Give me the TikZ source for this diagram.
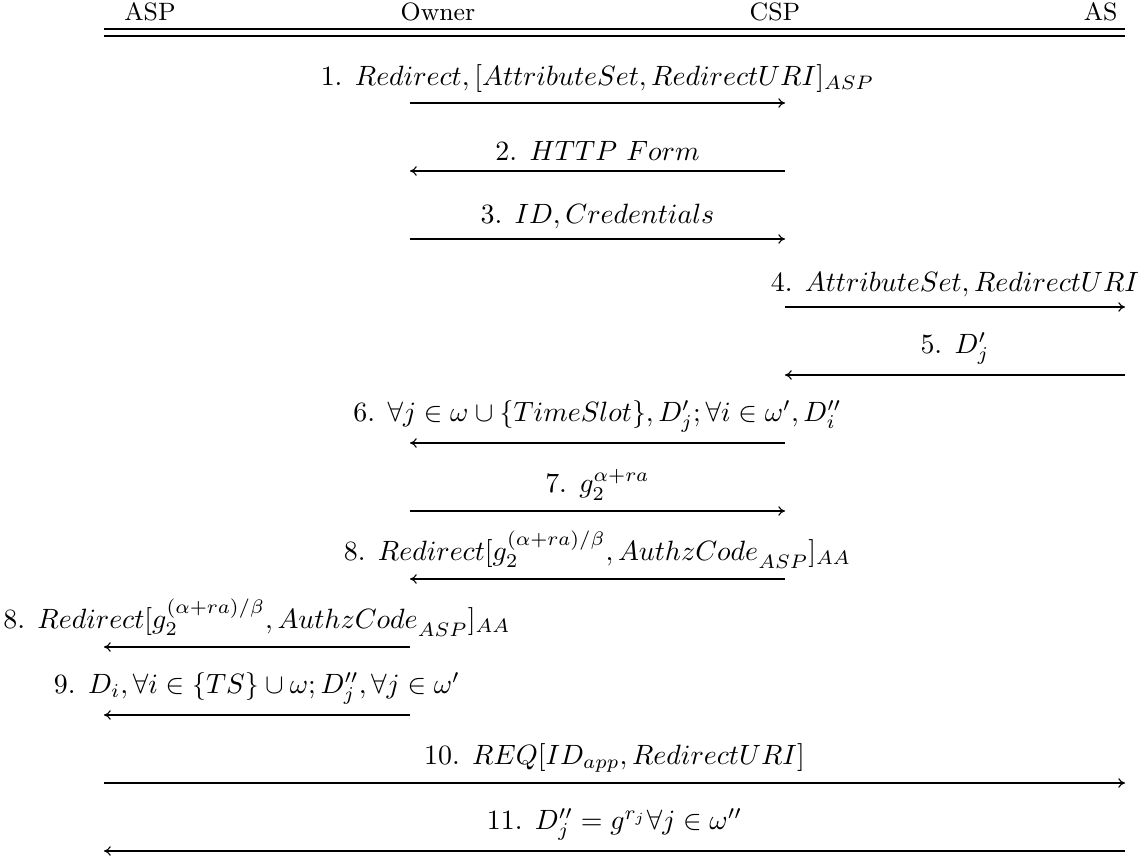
\documentclass[tikz,border=0pt]{standalone}
\usetikzlibrary{arrows.meta,calc}
\begin{document}
\begin{tikzpicture}[x=0.3584pt, y=-0.3584pt,
  msg/.style={-{To[length=2.4pt,width=3.4pt]}, line width=0.4pt},
  lbl/.style={anchor=south, inner sep=0pt},
  party/.style={anchor=base, inner sep=0pt, font=\small},
  hrule/.style={line width=0.4pt}]
\useasboundingbox (0,0) rectangle (1146,856);

% header row with the four parties
\node[party] (hASP)   at (150,21) {ASP};
\node[party] (hOwner) at (438,21) {Owner};
\node[party] (hCSP)   at (775,21) {CSP};
\node[party, anchor=base east] (hAS) at (1118,21) {AS};

% double rule under the header
\coordinate (r1a) at (104,29); \coordinate (r1b) at (1125,29);
\coordinate (r2a) at (104,36); \coordinate (r2b) at (1125,36);
\draw[hrule] (r1a) -- (r1b);
\draw[hrule] (r2a) -- (r2b);

% message rows: one point per party on each row
\foreach \r/\y in {1/103,2/171,3/239,4/307,5/375,6/443,7/511,8/579,9/647,10/715,11/783,12/851}{
  \coordinate (asp\r) at (104,\y);
  \coordinate (own\r) at (410,\y);
  \coordinate (csp\r) at (785,\y);
  \coordinate (as\r)  at (1125,\y);
}

% messages, each label centred over its arrow
\draw[msg] (own1) -- (csp1);
\node[lbl] (m1) at ($(own1)!0.5!(csp1)+(0,-10)$) {1. $Redirect, [AttributeSet, RedirectURI]_{ASP}$};

\draw[msg] (csp2) -- (own2);
\node[lbl] (m2) at ($(own2)!0.5!(csp2)+(0,-10)$) {2. $HTTP\ Form$};

\draw[msg] (own3) -- (csp3);
\node[lbl] (m3) at ($(own3)!0.5!(csp3)+(0,-10)$) {3. $ID, Credentials$};

\draw[msg] (csp4) -- (as4);
\node[lbl] (m4) at ($(csp4)!0.5!(as4)+(0,-10)$) {4. $AttributeSet, RedirectURI$};

\draw[msg] (as5) -- (csp5);
\node[lbl] (m5) at ($(csp5)!0.5!(as5)+(0,-10)$) {5. $D'_j$};

\draw[msg] (csp6) -- (own6);
\node[lbl] (m6) at ($(own6)!0.5!(csp6)+(0,-10)$) {6. $\forall j \in \omega \cup \{TimeSlot\}, D'_j; \forall i \in \omega', D''_i$};

\draw[msg] (own7) -- (csp7);
\node[lbl] (m7) at ($(own7)!0.5!(csp7)+(0,-10)$) {7. $g_2^{\alpha+ra}$};

\draw[msg] (csp8) -- (own8);
\node[lbl] (m8) at ($(own8)!0.5!(csp8)+(0,-10)$) {8. $Redirect[g_2^{(\alpha+ra)/\beta}, AuthzCode_{\lower1.5pt\hbox{$\scriptstyle ASP$}}]_{AA}$};

\draw[msg] (own9) -- (asp9);
\node[lbl] (m8b) at ($(asp9)!0.5!(own9)+(0,-10)$) {8. $Redirect[g_2^{(\alpha+ra)/\beta}, AuthzCode_{\lower1.5pt\hbox{$\scriptstyle ASP$}}]_{AA}$};

\draw[msg] (own10) -- (asp10);
\node[lbl] (m9) at ($(asp10)!0.5!(own10)+(0,-10)$) {9. $D_i, \forall i \in \{TS\} \cup \omega; D''_j, \forall j \in \omega'$};

\draw[msg] (asp11) -- (as11);
\node[lbl] (m10) at ($(asp11)!0.5!(as11)+(0,-10)$) {10. $REQ[ID_{app}, RedirectURI]$};

\draw[msg] (as12) -- (asp12);
\node[lbl] (m11) at ($(asp12)!0.5!(as12)+(0,-10)$) {11. $D''_j = g^{r_j} \forall j \in \omega''$};
\end{tikzpicture}
\end{document}
